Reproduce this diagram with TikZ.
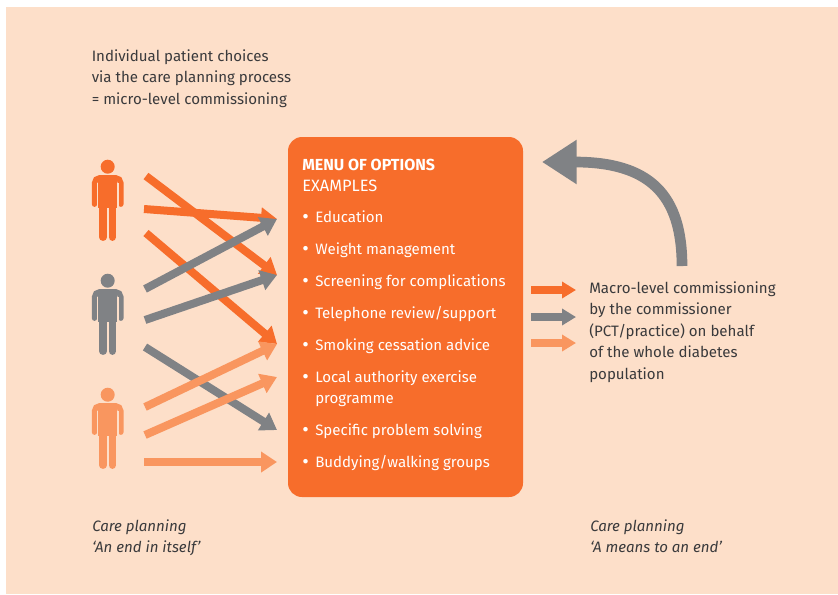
\documentclass[tikz,border=0pt]{standalone}
\usepackage{fontspec}
\setmainfont{Fira Sans}
\usetikzlibrary{arrows.meta}
\definecolor{peach}{HTML}{FDDFC9}
\definecolor{oran}{HTML}{F76D2B}
\definecolor{grey}{HTML}{808285}
\definecolor{lite}{HTML}{F9965F}
\definecolor{ink}{HTML}{3A3A3C}
\tikzset{
  x=0.75pt,y=-0.75pt,
  txt/.style={anchor=base west,inner sep=0pt,text=ink,font=\fontsize{11.3}{13}\selectfont},
  menu/.style={anchor=base west,inner sep=0pt,text=white,font=\fontsize{11.3}{13}\selectfont},
  flow/.style={line width=6pt,-{Triangle[length=12pt,width=15pt]}},
  keyarrow/.style={line width=6pt,-{Triangle[length=10.5pt,width=12pt]}},
  person/.pic={
    \fill[#1] (0,0) circle[radius=7];
    \fill[#1,rounded corners=3pt] (-9.7,8.3) rectangle (9.7,30);
    \fill[#1] (-9.7,20) rectangle (9.7,41);
    \draw[#1,line width=4pt,line cap=round,rounded corners=4pt] (-13.2,37.5) -- (-13.2,11) -- (13.2,11) -- (13.2,37.5);
    \fill[peach] (-10.9,16) rectangle (-9.7,41);
    \fill[peach] (9.7,16) rectangle (10.9,41);
    \draw[#1,line width=5.6pt,line cap=round] (-4.6,38) -- (-4.6,70.5);
    \draw[#1,line width=5.6pt,line cap=round] (4.6,38) -- (4.6,70.5);
  }
}
\begin{document}
\begin{tikzpicture}
\useasboundingbox (0,0) rectangle (838,594);
\fill[peach] (6,7) rectangle (838,594);
% people
\pic at (107.7,166.7) {person=oran};
\pic at (107.7,280.7) {person=grey};
\pic at (107.7,394.7) {person=lite};
% connector ends
\coordinate (sa1) at (146,176); \coordinate (sa2) at (144,209); \coordinate (sa3) at (146,233);
\coordinate (sg1) at (145,289); \coordinate (sg2) at (145,320); \coordinate (sg3) at (145,347);
\coordinate (sl1) at (145,407); \coordinate (sl2) at (145,435); \coordinate (sl3) at (144,462);
\coordinate (t1) at (277,219); \coordinate (t2) at (277,275); \coordinate (t3) at (277,344);
\coordinate (t4) at (277,377); \coordinate (t5) at (277,430); \coordinate (t6) at (277,462);
% arrows
\draw[flow,oran] (sa2) -- (t1);
\draw[flow,oran] (sa1) -- (t2);
\draw[flow,oran] (sa3) -- (t3);
\draw[flow,grey] (sg1) -- (t1);
\draw[flow,grey] (sg2) -- (t2);
\draw[flow,grey] (sg3) -- (t5);
\draw[flow,lite] (sl1) -- (t3);
\draw[flow,lite] (sl2) -- (t4);
\draw[flow,lite] (sl3) -- (t6);
% box
\node[fill=oran,rounded corners=10.5pt,minimum width=176.25pt,minimum height=270pt,inner sep=0pt] (box) at (405.5,317) {};
\node[menu,font=\fontsize{12}{13}\selectfont\bfseries] (m0) at (302,170) {MENU OF OPTIONS};
\node[menu,font=\fontsize{12.3}{13}\selectfont] (m1) at (302,191) {EXAMPLES};
\foreach \n/\y/\t in {a/222/Education,b/254/Weight management,c/286/Screening for complications,d/318/Telephone review\slash support,e/350/Smoking cessation advice,f/382/Local authority exercise,h/435/Specific problem solving,i/467/Buddying\slash walking groups}{
  \node[menu,font=\fontsize{15}{13}\selectfont,yshift=-0.8pt] (bul\n) at (302,\y) {•};
  \node[menu] (it\n) at (315,\y) {\t};
}
\node[menu] (itg) at (315,403) {programme};
% texts
\node[txt] (i1) at (91.5,61) {Individual patient choices};
\node[txt] (i2) at (91.5,82) {via the care planning process};
\node[txt] (i3) at (91.5,104) {= micro-level commissioning};
\node[txt,font=\fontsize{11.3}{13}\selectfont\itshape] (c1) at (92,531) {Care planning};
\node[txt,font=\fontsize{11.3}{13}\selectfont\itshape] (c2) at (92,552) {‘An end in itself’};
\node[txt,font=\fontsize{11.3}{13}\selectfont\itshape] (c3) at (590,531) {Care planning};
\node[txt,font=\fontsize{11.3}{13}\selectfont\itshape] (c4) at (590,552) {‘A means to an end’};
\node[txt] (r1) at (589,293) {Macro-level commissioning};
\node[txt] (r2) at (589,314) {by the commissioner};
\node[txt] (r3) at (589,336) {(PCT/practice) on behalf};
\node[txt] (r4) at (589,357) {of the whole diabetes};
\node[txt] (r5) at (589,379) {population};
% key arrows
\coordinate (k1s) at (531,290); \coordinate (k1t) at (576,290);
\coordinate (k2s) at (531,317); \coordinate (k2t) at (576,317);
\coordinate (k3s) at (531,343); \coordinate (k3t) at (576,343);
\draw[keyarrow,oran] (k1s) -- (k1t);
\draw[keyarrow,grey] (k2s) -- (k2t);
\draw[keyarrow,lite] (k3s) -- (k3t);
% big curved arrow
\coordinate (cs) at (682,266); \coordinate (ct) at (542,162);
\draw[grey,line width=8pt,-{Triangle[length=26pt,width=31.5pt]}] (cs) .. controls (682,195) and (650,162) .. (ct);
\end{tikzpicture}
\end{document}
